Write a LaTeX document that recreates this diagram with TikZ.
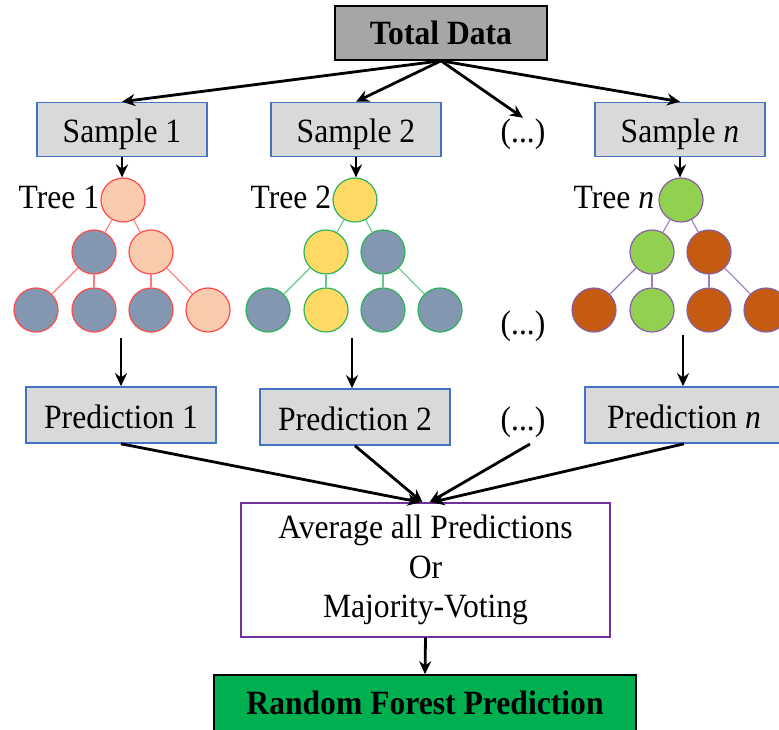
\documentclass[tikz,border=0pt]{standalone}
\usepackage{fontspec}
\setmainfont{Liberation Serif}[FakeStretch=0.93]
\usetikzlibrary{arrows.meta,calc}

\definecolor{totfill}{HTML}{A6A6A6}
\definecolor{boxfill}{HTML}{D9D9D9}
\definecolor{boxline}{HTML}{4472C4}
\definecolor{peach}{HTML}{F8CBAD}
\definecolor{slate}{HTML}{8497B0}
\definecolor{gold}{HTML}{FFD966}
\definecolor{lime}{HTML}{92D050}
\definecolor{rust}{HTML}{C55A11}
\definecolor{redline}{HTML}{FF4B4B}
\definecolor{rededge}{HTML}{FF7A7A}
\definecolor{greenline}{HTML}{2EB35A}
\definecolor{greenedge}{HTML}{66C98A}
\definecolor{purpline}{HTML}{8560A8}
\definecolor{purpedge}{HTML}{9A7CC0}
\definecolor{votebox}{HTML}{7030A0}
\definecolor{forest}{HTML}{00B050}

% one tree: prefix, root x, fills of root, level-2 (left,right), level-3 (four)
\newcommand\rftree[9]{%
  \node[leaf, fill=#3] (#1r) at (#2,200) {};
  \node[leaf, fill=#4] (#1a) at (#2-29,252) {};
  \node[leaf, fill=#5] (#1b) at (#2+28,252) {};
  \node[leaf, fill=#6] (#1c) at (#2-87,310) {};
  \node[leaf, fill=#7] (#1d) at (#2-29,310) {};
  \node[leaf, fill=#8] (#1e) at (#2+28,310) {};
  \node[leaf, fill=#9] (#1f) at (#2+85,310) {};
  \draw[treeedge] (#1r) -- (#1a);
  \draw[treeedge] (#1r) -- (#1b);
  \draw[treeedge] (#1a) -- (#1c);
  \draw[treeedge] (#1a) -- (#1d);
  \draw[treeedge] (#1b) -- (#1e);
  \draw[treeedge] (#1b) -- (#1f);
}

\begin{document}
\begin{tikzpicture}[x=1pt,y=-1pt,
  font=\fontsize{34}{39.5}\selectfont,
  every node/.style={inner sep=0pt},
  % text baseline sits #1/2 below the box centre
  lowtext/.style={text height=#1, text depth=0pt},
  databox/.style={draw=black, fill=totfill, line width=1.6pt, lowtext=22pt,
    minimum width=212pt, minimum height=54pt, font=\fontsize{34}{39.5}\selectfont\bfseries},
  sampbox/.style={draw=boxline, fill=boxfill, line width=1.6pt, lowtext=25pt,
    minimum width=170pt, minimum height=54pt},
  predbox/.style={draw=boxline, fill=boxfill, line width=1.6pt, lowtext=27pt,
    minimum width=190pt, minimum height=56pt},
  leaf/.style={circle, draw, line width=1.2pt, minimum size=44pt},
  treeedge/.style={line width=1.1pt},
  arr/.style={-{Stealth[length=13pt,width=12pt]}, line width=2.8pt, black},
  more/.style={lowtext=24pt, font=\fontsize{34}{39.5}\selectfont},
]
\useasboundingbox (0,0) rectangle (779,729);

% top: the whole data set and its samples
\node[databox] (total) at (441,33) {Total Data};
\node[sampbox] (s1) at (122,129.5) {Sample 1};
\node[sampbox] (s2) at (356,129.5) {Sample 2};
\node[more] (d1) at (523,130) {(...)};
\node[sampbox] (sn) at (680,129.5) {Sample \textit{n}};

\draw[arr] (total.south) -- (s1.north);
\draw[arr] (total.south) -- (s2.north);
\draw[arr] (total.south) -- (d1.north);
\draw[arr] (total.south) -- (sn.north);

% one decision tree per sample
\begin{scope}[leaf/.append style={draw=redline}, treeedge/.append style={draw=rededge}]
  \rftree{ta}{123}{peach}{slate}{peach}{slate}{slate}{slate}{peach}
\end{scope}
\begin{scope}[leaf/.append style={draw=greenline}, treeedge/.append style={draw=greenedge}]
  \rftree{tb}{355}{gold}{gold}{slate}{slate}{gold}{slate}{slate}
\end{scope}
\begin{scope}[leaf/.append style={draw=purpline}, treeedge/.append style={draw=purpedge}]
  \rftree{tn}{681}{lime}{lime}{rust}{rust}{lime}{rust}{rust}
\end{scope}

\node[anchor=base east] (la) at ([xshift=-1pt,yshift=-8pt]tar.west) {Tree 1};
\node[anchor=base east] (lb) at ([xshift=-1pt,yshift=-8pt]tbr.west) {Tree 2};
\node[anchor=base east] (ln) at ([xshift=-4pt,yshift=-8pt]tnr.west) {Tree \textit{n}};
\node[more] (d2) at (523,322) {(...)};

\draw[arr] (s1.south) -- (s1.south |- tar.north);
\draw[arr] (s2.south) -- (s2.south |- tbr.north);
\draw[arr] (sn.south) -- (sn.south |- tnr.north);

% predictions of the trees
\node[predbox] (p1) at (121,415) {Prediction 1};
\node[predbox] (p2) at (355,417) {Prediction 2};
\node[more] (d3) at (523,418) {(...)};
\node[predbox, minimum width=198pt] (pn) at (684,415) {Prediction \textit{n}};

\coordinate (oa) at (121,338);
\coordinate (ob) at (352,338);
\coordinate (on) at (683,335);
\draw[arr] (oa) -- (oa |- p1.north);
\draw[arr] (ob) -- (ob |- p2.north);
\draw[arr] (on) -- (on |- pn.north);

% combining step
\node[draw=votebox, line width=1.4pt, fill=white, minimum width=369pt,
  minimum height=134pt, align=center] (avg) at (425.5,570)
  {Average all Predictions\\Or\\Majority-Voting};

\coordinate (da) at (530,444);
\draw[arr] (p1.south) -- ([xshift=-5pt]avg.north);
\draw[arr] (p2.south) -- ([xshift=-3pt]avg.north);
\draw[arr] (da) -- ([xshift=4pt]avg.north);
\draw[arr] (pn.south) -- ([xshift=6pt]avg.north);

% final output
\node[draw=black, fill=forest, line width=1.6pt, minimum width=422pt, lowtext=20pt,
  minimum height=58pt, font=\fontsize{34}{39.5}\selectfont\bfseries] (rf) at (425,704)
  {Random Forest Prediction};
\draw[arr] (avg.south) -- (rf.north);
\end{tikzpicture}
\end{document}
